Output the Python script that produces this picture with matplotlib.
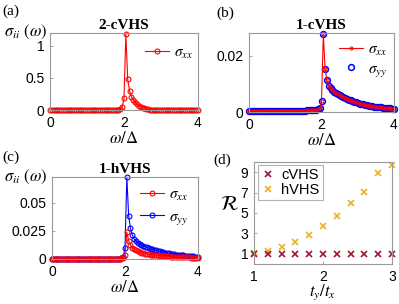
import numpy as np
import matplotlib
matplotlib.use("Agg")
import matplotlib.pyplot as plt

plt.rcParams["font.family"] = ["Liberation Sans", "DejaVu Sans"]
plt.rcParams["mathtext.fontset"] = "stix"

# frequency grid omega/Delta, 0..4 in steps of 0.05
omega = np.linspace(0, 4, 81)

# (a) 2-cVHS
sxx_a = ([0.0] * 38 +
         [0.012, 0.045, 0.18, 1.18, 0.48, 0.30, 0.21, 0.16, 0.12, 0.09,
          0.07, 0.05, 0.035, 0.025, 0.017, 0.011, 0.007, 0.004, 0.002, 0.001] +
         [0.0] * 23)

# (b) 1-cVHS (sigma_xx and sigma_yy coincide)
sxx_b = ([0.0005] * 32 +
         [0.0006, 0.0006, 0.0006, 0.0007, 0.0007, 0.0008,
          0.0009, 0.0013, 0.0038, 0.0275, 0.0152, 0.0112,
          0.0092, 0.0085, 0.0078, 0.0072, 0.0068, 0.0064, 0.0060, 0.0057,
          0.0053, 0.0050, 0.0047, 0.0044, 0.0041, 0.0039, 0.0036, 0.0034,
          0.0031, 0.0030, 0.0028, 0.0027, 0.0025, 0.0024, 0.0022, 0.0021,
          0.0020, 0.0019, 0.0018, 0.0017, 0.0016, 0.0016, 0.0015, 0.0014,
          0.0014, 0.0013, 0.0013, 0.0012, 0.0012])
syy_b = list(sxx_b)

# (c) 1-hVHS
sxx_c = ([0.0003] * 38 +
         [0.0006, 0.0012, 0.0035, 0.0238,
          0.0164, 0.0122, 0.0100, 0.0087, 0.0077, 0.0069, 0.0063, 0.0058,
          0.0053, 0.0049, 0.0046, 0.0043, 0.0040, 0.0038, 0.0036, 0.0034,
          0.0032, 0.0030, 0.0028, 0.0027, 0.0025, 0.0024, 0.0023, 0.0022,
          0.0021, 0.0020, 0.0019, 0.0018, 0.0017, 0.0016, 0.0016, 0.0015,
          0.0014, 0.0014, 0.0013, 0.0013, 0.0012, 0.0012, 0.0011])
syy_c = ([0.0003] * 38 +
         [0.0008, 0.0018, 0.0098, 0.073,
          0.0387, 0.0274, 0.0215, 0.0180, 0.0160, 0.0145, 0.0133, 0.0125,
          0.0117, 0.0110, 0.0104, 0.0098, 0.0092, 0.0087, 0.0082, 0.0078,
          0.0073, 0.0069, 0.0065, 0.0061, 0.0058, 0.0055, 0.0051, 0.0048,
          0.0045, 0.0043, 0.0040, 0.0038, 0.0036, 0.0034, 0.0032, 0.0030,
          0.0028, 0.0026, 0.0025, 0.0023, 0.0022, 0.0021, 0.0020])

# (d) ratio R vs t_y/t_x
ratio_t = [1.0, 1.2, 1.4, 1.6, 1.8, 2.0, 2.2, 2.4, 2.6, 2.8, 3.0]
R_cvhs = [1.0, 1.0, 1.0, 1.0, 1.0, 1.0, 1.0, 1.0, 1.0, 1.0, 1.0]
R_hvhs = [1.05, 1.25, 1.64, 2.15, 2.86, 3.76, 4.72, 6.0, 7.03, 8.95, 9.68]

RED, BLUE = "#ff0000", "#0000ff"
SPINE = "0.6"


def style(ax):
    for sp in ax.spines.values():
        sp.set_color(SPINE)
        sp.set_linewidth(0.8)
    ax.tick_params(direction="in", length=2.5, width=0.6, color=SPINE,
                   labelsize=10, pad=4)


fig = plt.figure(figsize=(3.99, 3.04), dpi=100)
W, H = 399, 304


def add_ax(l, r, t, b):
    return fig.add_axes([l / W, (H - b) / H, (r - l) / W, (b - t) / H])


axa = add_ax(50, 198, 33, 110)
axb = add_ax(249, 394, 33, 112)
axc = add_ax(52, 198, 177, 259)
axd = add_ax(254, 392, 162, 264)

mk = dict(mfc="none", clip_on=False)

# (a)
axa.plot(omega, sxx_a, "o-", color=RED, ms=3.5, mew=0.8, lw=0.8, label=r"$\sigma_{xx}$", **mk)
axa.set_ylim(0, 1.2)
axa.set_yticks([0, 0.5, 1])
axa.set_yticklabels(["0", "0.5", "1"])
axa.legend(loc="center left", bbox_to_anchor=(0.64, 0.74), frameon=False, fontsize=11,
           handlelength=1.6, handletextpad=0.3, borderpad=0, borderaxespad=0)

# (b)
hy, = axb.plot(omega, syy_b, "o", color=BLUE, ms=4.2, mew=1.1, **mk)
hx, = axb.plot(omega, sxx_b, "o-", color=RED, ms=2.2, mew=0.7, lw=0.8, **mk)
axb.set_ylim(0, 0.028)
axb.set_yticks([0, 0.02])
axb.set_yticklabels(["0", "0.02"])
axb.legend([hx, hy], [r"$\sigma_{xx}$", r"$\sigma_{yy}$"], loc="center left",
           bbox_to_anchor=(0.62, 0.65), frameon=False, fontsize=11, labelspacing=0.25,
           handlelength=1.6, handletextpad=0.3, borderpad=0, borderaxespad=0)

# (c)  blue drawn first so the red baseline stays on top
hyc, = axc.plot(omega, syy_c, "o-", color=BLUE, ms=3.5, mew=0.8, lw=0.8, **mk)
hxc, = axc.plot(omega, sxx_c, "o-", color=RED, ms=3.5, mew=0.8, lw=0.8, **mk)
axc.set_ylim(0, 0.0732)
axc.set_yticks([0, 0.025, 0.05])
axc.set_yticklabels(["0", "0.025", "0.05"])
axc.legend([hxc, hyc], [r"$\sigma_{xx}$", r"$\sigma_{yy}$"], loc="center left",
           bbox_to_anchor=(0.6, 0.63), frameon=False, fontsize=11,
           labelspacing=0.45, handlelength=1.6, handletextpad=0.3, borderpad=0,
           borderaxespad=0)

for ax in (axa, axb, axc):
    ax.set_xlim(0, 4)
    ax.set_xticks([0, 2, 4])
    style(ax)
    ax.set_xlabel(r"$\omega/\Delta$", fontsize=12, labelpad=0)

for ax, title in ((axa, "2-cVHS"), (axb, "1-cVHS"), (axc, "1-hVHS")):
    ax.set_title(title, fontsize=11, fontweight="bold", family="Liberation Serif", pad=3)

# (d)
hh, = axd.plot(ratio_t, R_hvhs, "x", color="#EDB120", ms=4.5, mew=1.2, clip_on=False)
hc, = axd.plot(ratio_t, R_cvhs, "x", color="#A2142F", ms=4.5, mew=1.2, clip_on=False)
axd.set_xlim(1, 3)
axd.set_ylim(0, 10)
axd.set_xticks([1, 2, 3])
axd.set_yticks([1, 3, 5, 7, 9])
style(axd)
axd.set_xlabel(r"$t_y/t_x$", fontsize=12, labelpad=-1)
lg = axd.legend([hc, hh], ["cVHS", "hVHS"], loc="upper left", bbox_to_anchor=(0.03, 0.97),
                fontsize=10.5, handlelength=1.0, handletextpad=0.4, borderpad=0.2,
                labelspacing=0.1, borderaxespad=0, fancybox=False, framealpha=1)
lg.get_frame().set_edgecolor("0.7")
lg.get_frame().set_linewidth(0.8)

# y labels and panel letters
fig.text(4 / W, 1 - 32 / H, r"$\sigma_{ii}\ (\omega)$", fontsize=12, ha="left", va="center")
fig.text(4 / W, 1 - 177 / H, r"$\sigma_{ii}\ (\omega)$", fontsize=12, ha="left", va="center")
fig.text(230 / W, 1 - 205 / H, r"$\mathcal{R}$", fontsize=15, ha="center", va="center")

for x, y, s in ((2, 11, "(a)"), (216, 13, "(b)"), (2, 157, "(c)"), (213, 160, "(d)")):
    fig.text(x / W, 1 - y / H, s, fontsize=11, family="Liberation Serif", ha="left", va="center")

fig.savefig("out.png", dpi=100)
